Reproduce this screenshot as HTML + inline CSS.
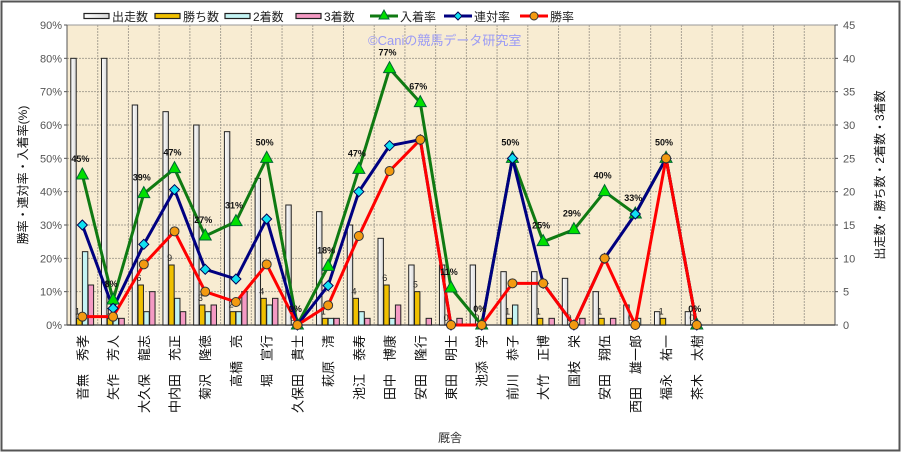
<!DOCTYPE html><html><head><meta charset="utf-8"><style>
body{margin:0;background:#fff;width:902px;height:453px;overflow:hidden}
svg{font-family:"Liberation Sans","Noto Sans CJK JP",sans-serif}
</style></head><body>
<svg id="s" width="902" height="453" xmlns="http://www.w3.org/2000/svg"></svg>
<script>
const names=["音無　秀孝","矢作　芳人","大久保　龍志","中内田　充正","菊沢　隆徳","高橋　亮","堀　宣行","久保田　貴士","萩原　清","池江　泰寿","田中　博康","安田　隆行","東田　明士","池添　学","前川　恭子","大竹　正博","国枝　栄","安田　翔伍","西田　雄一郎","福永　祐一","茶木　太樹"];
const D=[[40,1,11,6],[40,1,1,1],[33,6,2,5],[32,9,4,2],[30,3,2,3],[29,2,2,5],[22,4,3,4],[18,0,0,0],[17,1,1,1],[15,4,2,1],[13,6,1,3],[9,5,0,1],[9,0,0,1],[9,0,0,0],[8,1,3,0],[8,1,0,1],[7,0,0,1],[5,1,0,1],[3,0,1,0],[2,1,0,0],[2,0,0,0]];
const inR=[45,7.5,39.4,46.9,26.7,31,50,0,17.6,46.7,76.9,66.7,11.1,0,50,25,28.6,40,33.3,50,0];
const reR=[30,5,24.2,40.6,16.7,13.8,31.8,0,11.8,40,53.8,55.6,0,0,50,12.5,0,20,33.3,50,0];
const wR=[2.5,2.5,18.2,28.1,10,6.9,18.2,0,5.9,26.7,46.2,55.6,0,0,12.5,12.5,0,20,0,50,0];
const inL=["45%","8%","39%","47%","27%","31%","50%","0%","18%","47%","77%","67%","11%","0%","50%","25%","29%","40%","33%","50%","0%"];
const L=67,R=835,T=25,B=325,W=(R-L)/25;
const yp=v=>B-v*(B-T)/90, yc=n=>B-n*(B-T)/45, cx=i=>L+W*(i+.5);
let h=`<defs><linearGradient id="gw" x1="0" x2="1"><stop offset="0" stop-color="#fff"/><stop offset="1" stop-color="#d8d8d8"/></linearGradient></defs>`;
h+=`<rect x="1.5" y="1.5" width="898" height="449" fill="#fff" stroke="#555" stroke-width="2"/>`;
h+=`<rect x="${L}" y="${T}" width="${R-L}" height="${B-T}" fill="#f8ecd2"/>`;
for(let k=1;k<9;k++)h+=`<line x1="${L}" x2="${R}" y1="${yp(k*10)}" y2="${yp(k*10)}" stroke="#a9a294" stroke-dasharray="2,1" stroke-width="1"/>`;
for(let k=1;k<25;k++)h+=`<line y1="${T}" y2="${B}" x1="${L+k*W}" x2="${L+k*W}" stroke="#a9a294" stroke-dasharray="2,1" stroke-width="1"/>`;
h+=`<rect x="${L}" y="${T}" width="${R-L}" height="${B-T}" fill="none" stroke="#999" stroke-width="1"/>`;
h+=`<line x1="${L}" x2="${L}" y1="${T}" y2="${B}" stroke="#555"/><line x1="${R}" x2="${R}" y1="${T}" y2="${B}" stroke="#555"/><line x1="${L}" x2="${R}" y1="${B}" y2="${B}" stroke="#555" stroke-width="1.5"/>`;
for(let k=0;k<=9;k++){h+=`<text x="${L-5}" y="${yp(k*10)+4}" font-size="11" fill="#555" text-anchor="end">${k*10}%</text><line x1="${L-3}" x2="${L}" y1="${yp(k*10)}" y2="${yp(k*10)}" stroke="#555"/>`;
h+=`<text x="${R+8}" y="${yc(k*5)+4}" font-size="11" fill="#555">${k*5}</text><line x1="${R}" x2="${R+3}" y1="${yc(k*5)}" y2="${yc(k*5)}" stroke="#555"/>`;}
h+=`<text x="${L+W*9.8}" y="45" font-size="13" fill="#9a9af5">©Caniの競馬データ研究室</text>`;
const cols=["url(#gw)","#f0c000","#c4f4f4","#f49ac4"];
D.forEach((d,i)=>{d.forEach((n,j)=>{if(n>0)h+=`<rect x="${L+i*W+3.8+j*5.8}" y="${yc(n)}" width="5.4" height="${B-yc(n)}" fill="${cols[j]}" stroke="#222" stroke-width="1"/>`;});
h+=`<text x="${L+i*W+10.5}" y="${yc(d[1])-4}" font-size="9" fill="#222" text-anchor="middle">${d[1]}</text>`;});
const pl=(a,c)=>`<polyline fill="none" stroke="${c}" stroke-width="3" stroke-linejoin="round" points="${a.map((v,i)=>cx(i)+','+yp(v)).join(' ')}"/>`;
h+=pl(inR,"#0f7a12")+pl(reR,"#000080")+pl(wR,"#ff0000");
inR.forEach((v,i)=>{const x=cx(i),y=yp(v);h+=`<polygon points="${x},${y-7} ${x-6},${y+4} ${x+6},${y+4}" fill="#00e000" stroke="#063" stroke-width="1"/>`;});
reR.forEach((v,i)=>{const x=cx(i),y=yp(v);h+=`<polygon points="${x},${y-5} ${x+5},${y} ${x},${y+5} ${x-5},${y}" fill="#10e0f0" stroke="#005" stroke-width="1"/>`;});
wR.forEach((v,i)=>{const x=cx(i),y=yp(v);h+=`<circle cx="${x}" cy="${y}" r="4.5" fill="#f39a10" stroke="#333" stroke-width="1"/>`;});
inR.forEach((v,i)=>{h+=`<text x="${cx(i)-2}" y="${yp(v)-13}" font-size="9" font-weight="bold" fill="#111" text-anchor="middle">${inL[i]}</text>`;});
names.forEach((n,i)=>{h+=`<text transform="translate(${cx(i)+5},335) rotate(-90)" font-size="13" fill="#111" text-anchor="end">${n}</text>`;});
h+=`<text x="450" y="442" font-size="12" fill="#333" text-anchor="middle">厩舎</text>`;
h+=`<text transform="translate(27,175) rotate(-90)" font-size="12" fill="#111" text-anchor="middle">勝率・連対率・入着率(%)</text>`;
h+=`<text transform="translate(884,175) rotate(-90)" font-size="12" fill="#111" text-anchor="middle">出走数・勝ち数・2着数・3着数</text>`;
const lb=[["出走数",84,0],["勝ち数",155,1],["2着数",225,2],["3着数",296,3]];
lb.forEach(([t,x,j])=>{h+=`<rect x="${x}" y="13.5" width="25" height="5" fill="${cols[j]}" stroke="#222" stroke-width="1.2"/><text x="${x+28}" y="21" font-size="12" fill="#222">${t}</text>`;});
h+=`<line x1="370" x2="398" y1="16" y2="16" stroke="#0f7a12" stroke-width="3"/><polygon points="384,10 379,19 389,19" fill="#00e000" stroke="#063"/><text x="400" y="21" font-size="12" fill="#222">入着率</text>`;
h+=`<line x1="444" x2="472" y1="16" y2="16" stroke="#000080" stroke-width="3"/><polygon points="458,12 462,16 458,20 454,16" fill="#10e0f0" stroke="#005"/><text x="474" y="21" font-size="12" fill="#222">連対率</text>`;
h+=`<line x1="520" x2="548" y1="16" y2="16" stroke="#ff0000" stroke-width="3"/><circle cx="534" cy="16" r="4" fill="#f39a10" stroke="#333"/><text x="550" y="21" font-size="12" fill="#222">勝率</text>`;
document.getElementById('s').innerHTML=h;
</script></body></html>
